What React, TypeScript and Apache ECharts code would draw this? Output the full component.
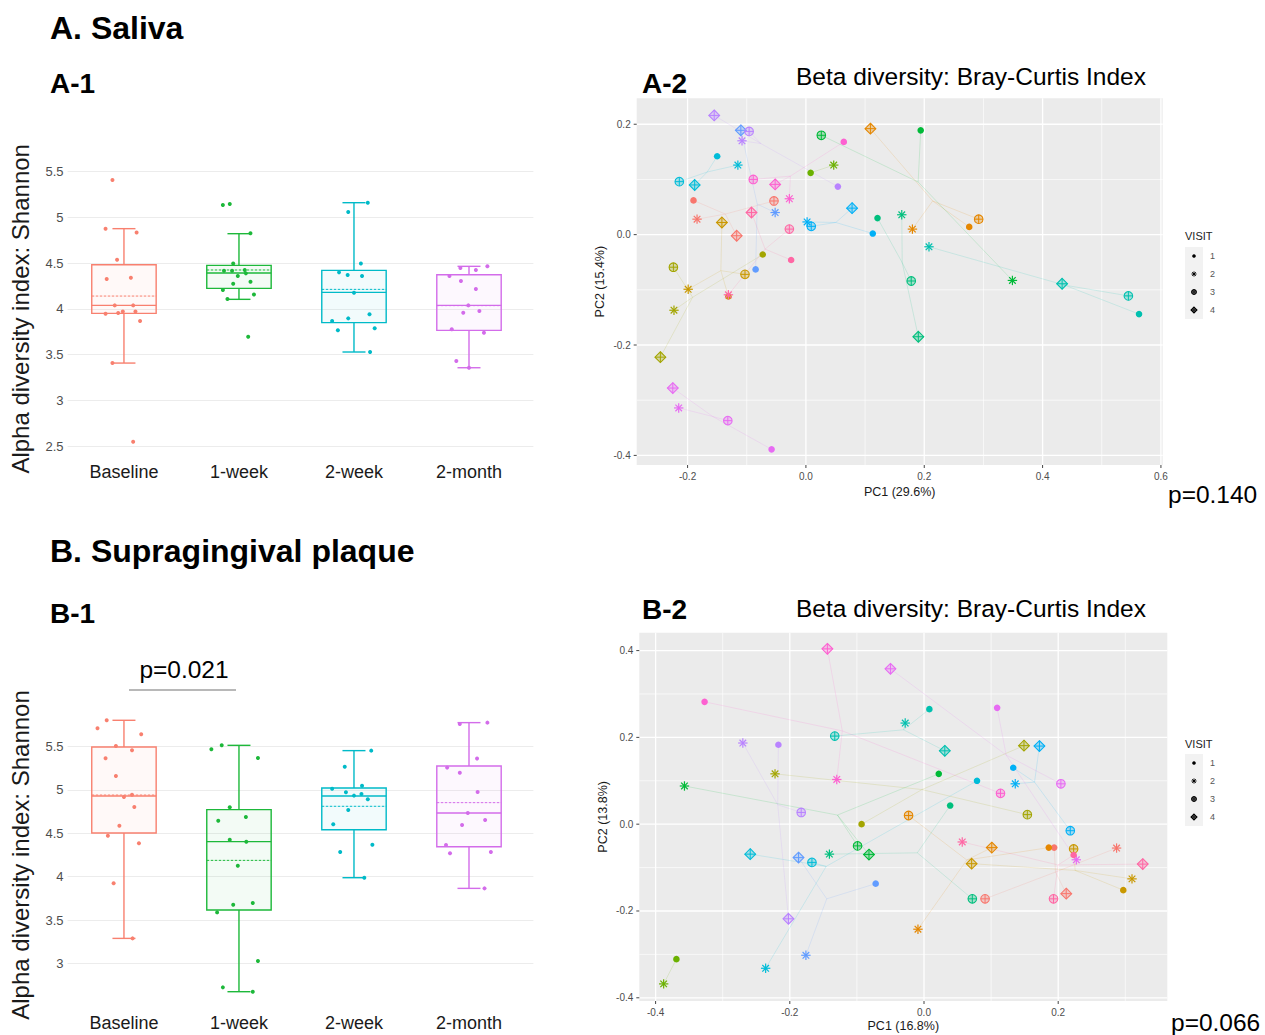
import React, { useEffect, useRef } from 'react';
import * as echarts from 'echarts';

const FONT = '"Liberation Sans", Arial, Helvetica, sans-serif';

// ---------- Alpha diversity (box plots) ----------
const timepoints = ['Baseline', '1-week', '2-week', '2-month'];
const timeColors = ['#F8806F', '#1DB83A', '#00BAC8', '#D36CEA'];

// [whiskerLow, q1, median, q3, whiskerHigh, mean]
const salivaBox = [
  [3.407, 3.951, 4.038, 4.483, 4.877, 4.14],
  [4.104, 4.224, 4.392, 4.476, 4.822, 4.425],
  [3.528, 3.849, 4.18, 4.421, 5.161, 4.213],
  [3.356, 3.765, 4.038, 4.373, 4.465, 4.035],
];
const salivaShannon = [
  [5.41, 4.877, 4.836, 4.538, 4.326, 4.341, 4.038, 4.038, 3.947, 3.954, 3.972, 3.972, 3.867, 3.407, 2.547],
  [5.135, 5.146, 4.826, 4.497, 4.417, 4.417, 4.425, 4.388, 4.359, 4.297, 4.275, 4.206, 4.158, 4.107, 3.695],
  [5.161, 5.059, 4.497, 4.399, 4.37, 4.359, 4.177, 3.94, 3.867, 3.896, 3.765, 3.787, 3.528],
  [4.446, 4.465, 4.425, 4.359, 4.304, 4.217, 4.038, 3.958, 3.976, 3.776, 3.739, 3.429, 3.356],
];
const salivaJitter = [
  [-0.1, -0.16, 0.11, -0.06, -0.15, 0.06, -0.08, 0.08, -0.16, -0.05, -0.01, 0.1, 0.14, -0.1, 0.08],
  [-0.14, -0.08, 0.1, -0.05, -0.13, -0.06, 0.05, 0.06, -0.01, 0.1, -0.05, -0.14, 0.13, -0.1, 0.08],
  [0.12, -0.05, 0.06, -0.13, -0.055, 0.07, 0, 0.135, -0.19, -0.05, -0.14, 0.18, 0.14],
  [-0.075, 0.16, 0.06, -0.17, -0.07, 0.06, -0.006, -0.05, 0.09, -0.15, 0.13, -0.11, 0],
];

const plaqueBox = [
  [3.288, 4.504, 4.93, 5.496, 5.804, 4.942],
  [2.673, 3.615, 4.404, 4.773, 5.515, 4.188],
  [3.988, 4.542, 4.931, 5.023, 5.454, 4.812],
  [3.865, 4.346, 4.735, 5.277, 5.777, 4.854],
];
const plaqueShannon = [
  [5.804, 5.712, 5.642, 5.508, 5.458, 5.365, 5.162, 4.946, 4.919, 4.804, 4.588, 4.473, 4.385, 3.923, 3.288],
  [5.515, 5.469, 5.369, 4.8, 4.646, 4.688, 4.427, 4.404, 4.127, 3.696, 3.677, 3.588, 3.027, 2.723, 2.673],
  [5.454, 5.269, 5.015, 5.05, 4.973, 4.935, 4.954, 4.892, 4.769, 4.604, 4.369, 4.285, 3.988],
  [5.762, 5.777, 5.362, 5.258, 5.2, 4.977, 4.735, 4.596, 4.654, 4.365, 4.269, 4.285, 3.865],
];
const plaqueJitter = [
  [-0.15, -0.23, 0.15, -0.07, 0.07, -0.16, -0.07, 0.07, 0, 0.09, -0.04, -0.14, 0.13, -0.09, 0.075],
  [-0.15, -0.24, 0.165, -0.08, -0.18, 0.06, -0.08, 0.064, -0.01, 0.12, -0.05, -0.19, 0.165, -0.14, 0.12],
  [0.15, -0.08, -0.19, 0.07, -0.07, 0, 0.065, 0.12, -0.05, -0.18, 0.16, -0.12, 0.09],
  [-0.08, 0.16, 0.07, -0.19, -0.08, 0.075, -0.01, -0.06, 0.14, -0.2, -0.165, 0.19, 0.135],
];

const salivaYTicks = [2.5, 3, 3.5, 4, 4.5, 5, 5.5];
const plaqueYTicks = [3, 3.5, 4, 4.5, 5, 5.5];

// ---------- Beta diversity (PCoA) ----------
const subjectColors = [
  '#F8766D', '#E58700', '#C99800', '#A3A500', '#6BB100', '#00BA38', '#00BF7D', '#00C0AF',
  '#00BCD8', '#00B0F6', '#619CFF', '#B983FF', '#E76BF3', '#FD61D1', '#FF67A4',
];
const visits = ['1', '2', '3', '4'];

// [PC1, PC2, visit, subject]
const salivaPoints = [
  [-0.19, 0.062, 1, 0], [-0.184, 0.028, 2, 0], [-0.054, 0.061, 3, 0], [-0.117, -0.002, 4, 0],
  [0.276, 0.014, 1, 1], [0.18, 0.01, 2, 1], [0.292, 0.028, 3, 1], [0.109, 0.192, 4, 1],
  [-0.131, -0.112, 1, 2], [-0.199, -0.099, 2, 2], [-0.103, -0.072, 3, 2], [-0.142, 0.022, 4, 2],
  [-0.073, -0.036, 1, 3], [-0.223, -0.137, 2, 3], [-0.224, -0.059, 3, 3], [-0.246, -0.222, 4, 3],
  [0.008, 0.112, 1, 4], [0.047, 0.126, 2, 4],
  [0.194, 0.189, 1, 5], [0.349, -0.083, 2, 5], [0.026, 0.18, 3, 5],
  [0.121, 0.03, 1, 6], [0.162, 0.036, 2, 6], [0.178, -0.084, 3, 6], [0.19, -0.185, 4, 6],
  [0.563, -0.144, 1, 7], [0.208, -0.022, 2, 7], [0.545, -0.111, 3, 7], [0.433, -0.089, 4, 7],
  [-0.15, 0.142, 1, 8], [-0.115, 0.126, 2, 8], [-0.214, 0.096, 3, 8], [-0.188, 0.09, 4, 8],
  [0.113, 0.002, 1, 9], [0.002, 0.023, 2, 9], [0.009, 0.015, 3, 9], [0.078, 0.048, 4, 9],
  [-0.085, -0.063, 1, 10], [-0.052, 0.04, 2, 10], [-0.11, 0.189, 4, 10],
  [0.054, 0.087, 1, 11], [-0.108, 0.17, 2, 11], [-0.096, 0.187, 3, 11], [-0.155, 0.216, 4, 11],
  [-0.058, -0.389, 1, 12], [-0.215, -0.314, 2, 12], [-0.132, -0.337, 3, 12], [-0.225, -0.278, 4, 12],
  [0.064, 0.168, 1, 13], [-0.028, 0.065, 2, 13], [-0.089, 0.1, 3, 13], [-0.052, 0.091, 4, 13],
  [-0.025, -0.046, 1, 14], [-0.131, -0.109, 2, 14], [-0.028, 0.01, 3, 14], [-0.092, 0.04, 4, 14],
];
const plaquePoints = [
  [0.194, -0.054, 1, 0], [0.287, -0.055, 2, 0], [0.091, -0.172, 3, 0], [0.212, -0.16, 4, 0],
  [0.186, -0.054, 1, 1], [-0.009, -0.242, 2, 1], [-0.023, 0.02, 3, 1], [0.101, -0.054, 4, 1],
  [0.297, -0.152, 1, 2], [0.31, -0.126, 2, 2], [0.223, -0.057, 3, 2], [0.071, -0.091, 4, 2],
  [-0.093, 0.0, 1, 3], [-0.222, 0.116, 2, 3], [0.154, 0.022, 3, 3], [0.149, 0.181, 4, 3],
  [-0.369, -0.311, 1, 4], [-0.388, -0.368, 2, 4],
  [0.022, 0.116, 1, 5], [-0.357, 0.088, 2, 5], [-0.099, -0.05, 3, 5], [-0.082, -0.07, 4, 5],
  [0.039, 0.043, 1, 6], [-0.141, -0.069, 2, 6], [0.072, -0.172, 3, 6],
  [0.008, 0.265, 1, 7], [-0.028, 0.233, 2, 7], [-0.133, 0.203, 3, 7], [0.031, 0.169, 4, 7],
  [0.079, 0.1, 1, 8], [-0.236, -0.332, 2, 8], [-0.167, -0.088, 3, 8], [-0.259, -0.069, 4, 8],
  [0.133, 0.13, 1, 9], [0.136, 0.093, 2, 9], [0.218, -0.015, 3, 9], [0.172, 0.18, 4, 9],
  [-0.072, -0.137, 1, 10], [-0.176, -0.302, 2, 10], [-0.187, -0.077, 4, 10],
  [-0.217, 0.183, 1, 11], [-0.27, 0.187, 2, 11], [-0.183, 0.027, 3, 11], [-0.202, -0.218, 4, 11],
  [0.109, 0.268, 1, 12], [0.227, -0.082, 2, 12], [0.204, 0.093, 3, 12], [-0.05, 0.358, 4, 12],
  [-0.327, 0.282, 1, 13], [-0.13, 0.103, 2, 13], [0.114, 0.071, 3, 13], [-0.144, 0.404, 4, 13],
  [0.223, -0.071, 1, 14], [0.057, -0.041, 2, 14], [0.193, -0.172, 3, 14], [0.326, -0.092, 4, 14],
];

const salivaRange = { x: [-0.286, 0.603], y: [-0.4174, 0.247] };
const plaqueRange = { x: [-0.4243, 0.3626], y: [-0.4074, 0.4412] };

const salivaMajorX = [-0.2, 0, 0.2, 0.4, 0.6];
const salivaMinorX = [-0.1, 0.1, 0.3, 0.5];
const salivaMajorY = [-0.4, -0.2, 0, 0.2];
const salivaMinorY = [-0.3, -0.1, 0.1];
const plaqueMajorX = [-0.4, -0.2, 0, 0.2];
const plaqueMinorX = [-0.3, -0.1, 0.1, 0.3];
const plaqueMajorY = [-0.4, -0.2, 0, 0.2, 0.4];
const plaqueMinorY = [-0.3, -0.1, 0.1, 0.3];

// ---------- helpers ----------
function alpha(hex: string, a: number) {
  const n = parseInt(hex.slice(1), 16);
  return `rgba(${(n >> 16) & 255},${(n >> 8) & 255},${n & 255},${a})`;
}
const isMult = (v: number, step: number) => Math.abs(v / step - Math.round(v / step)) < 1e-6;

function visitShape(visit: number, cx: number, cy: number, color: string, s: number) {
  const out: any[] = [];
  if (visit === 1) {
    out.push({ type: 'circle', shape: { cx, cy, r: 3.3 * s }, style: { fill: color } });
  } else if (visit === 2) {
    const r = 4.7 * s, d = 3.3 * s;
    const segs = [[0, -r, 0, r], [-r, 0, r, 0], [-d, -d, d, d], [-d, d, d, -d]];
    segs.forEach((g) => out.push({ type: 'line', shape: { x1: cx + g[0], y1: cy + g[1], x2: cx + g[2], y2: cy + g[3] }, style: { stroke: color, lineWidth: 1.2 * Math.max(s, 0.8) } }));
  } else if (visit === 3) {
    const r = 4.3 * s;
    out.push({ type: 'circle', shape: { cx, cy, r }, style: { fill: alpha(color, 0.3), stroke: color, lineWidth: 1.1 } });
    out.push({ type: 'line', shape: { x1: cx - r, y1: cy, x2: cx + r, y2: cy }, style: { stroke: color, lineWidth: 1 } });
    out.push({ type: 'line', shape: { x1: cx, y1: cy - r, x2: cx, y2: cy + r }, style: { stroke: color, lineWidth: 1 } });
  } else {
    const r = 5.4 * s;
    out.push({ type: 'polygon', shape: { points: [[cx, cy - r], [cx + r, cy], [cx, cy + r], [cx - r, cy]] }, style: { fill: alpha(color, 0.3), stroke: color, lineWidth: 1.1 } });
    out.push({ type: 'line', shape: { x1: cx - r, y1: cy, x2: cx + r, y2: cy }, style: { stroke: color, lineWidth: 1 } });
    out.push({ type: 'line', shape: { x1: cx, y1: cy - r, x2: cx, y2: cy + r }, style: { stroke: color, lineWidth: 1 } });
  }
  return out;
}

function spiderData(points: number[][]) {
  const sums: Record<number, number[]> = {};
  points.forEach((p) => {
    const s = sums[p[3]] || [0, 0, 0];
    s[0] += p[0]; s[1] += p[1]; s[2] += 1;
    sums[p[3]] = s;
  });
  return points.map((p) => {
    const s = sums[p[3]];
    return [p[0], p[1], s[0] / s[2], s[1] / s[2], p[3]];
  });
}

const BOX_HALF = 0.28;
const CAP_HALF = 0.1;

function boxSeries(stats: number[][], axis: number) {
  return {
    type: 'custom', xAxisIndex: axis, yAxisIndex: axis, z: 2, silent: true,
    data: stats.map((b, i) => [i, ...b]),
    encode: { x: 0, y: [1, 2, 3, 4, 5, 6] },
    renderItem: (params: any, api: any) => {
      const i = api.value(0);
      const c = timeColors[i];
      const y = (k: number) => api.coord([i, api.value(k)])[1];
      const cx = api.coord([i, 0])[0];
      const xl = api.coord([i - BOX_HALF, 0])[0];
      const xr = api.coord([i + BOX_HALF, 0])[0];
      const cl = api.coord([i - CAP_HALF, 0])[0];
      const cr = api.coord([i + CAP_HALF, 0])[0];
      const low = y(1), q1 = y(2), med = y(3), q3 = y(4), high = y(5), mean = y(6);
      const st = { stroke: c, lineWidth: 1.4 };
      return {
        type: 'group',
        children: [
          { type: 'rect', shape: { x: xl, y: q3, width: xr - xl, height: q1 - q3 }, style: { fill: alpha(c, 0.05), stroke: c, lineWidth: 1.4 } },
          { type: 'line', shape: { x1: cx, y1: q3, x2: cx, y2: high }, style: st },
          { type: 'line', shape: { x1: cx, y1: q1, x2: cx, y2: low }, style: st },
          { type: 'line', shape: { x1: cl, y1: high, x2: cr, y2: high }, style: st },
          { type: 'line', shape: { x1: cl, y1: low, x2: cr, y2: low }, style: st },
          { type: 'line', shape: { x1: xl, y1: med, x2: xr, y2: med }, style: st },
          { type: 'line', shape: { x1: xl, y1: mean, x2: xr, y2: mean }, style: { stroke: c, lineWidth: 1, lineDash: [2.5, 1.5] } },
        ],
      };
    },
  };
}

function jitterSeries(values: number[][], jitter: number[][], axis: number) {
  return values.map((vals, i) => ({
    type: 'scatter', xAxisIndex: axis, yAxisIndex: axis, z: 3, silent: true,
    symbol: 'circle', symbolSize: 4,
    itemStyle: { color: timeColors[i], opacity: 1 },
    data: vals.map((v, k) => [i + jitter[i][k], v]),
  }));
}

function gridLineSeries(axis: number, majorX: number[], minorX: number[], majorY: number[], minorY: number[]) {
  const data: number[][] = [];
  majorX.forEach((v) => data.push([v, 0, 1]));
  minorX.forEach((v) => data.push([v, 0, 0]));
  majorY.forEach((v) => data.push([v, 1, 1]));
  minorY.forEach((v) => data.push([v, 1, 0]));
  return {
    type: 'custom', xAxisIndex: axis, yAxisIndex: axis, z: 1, silent: true,
    data,
    encode: { x: 0, y: 0 },
    renderItem: (params: any, api: any) => {
      const cs = params.coordSys;
      const v = api.value(0), dir = api.value(1), major = api.value(2);
      const w = major ? 1.3 : 1;
      const col = major ? '#FFFFFF' : 'rgba(255,255,255,0.65)';
      const kids: any[] = [];
      if (dir === 0) {
        const px = api.coord([v, 0])[0];
        kids.push({ type: 'line', shape: { x1: px, y1: cs.y, x2: px, y2: cs.y + cs.height }, style: { stroke: col, lineWidth: w } });
        if (major) kids.push({ type: 'line', shape: { x1: px, y1: cs.y + cs.height, x2: px, y2: cs.y + cs.height + 3 }, style: { stroke: '#444', lineWidth: 1 } });
      } else {
        const py = api.coord([0, v])[1];
        kids.push({ type: 'line', shape: { x1: cs.x, y1: py, x2: cs.x + cs.width, y2: py }, style: { stroke: col, lineWidth: w } });
        if (major) kids.push({ type: 'line', shape: { x1: cs.x - 3, y1: py, x2: cs.x, y2: py }, style: { stroke: '#444', lineWidth: 1 } });
      }
      return { type: 'group', children: kids };
    },
  };
}

function spiderSeries(points: number[][], axis: number) {
  return {
    type: 'custom', xAxisIndex: axis, yAxisIndex: axis, z: 2, silent: true,
    data: spiderData(points),
    encode: { x: [0, 2], y: [1, 3] },
    renderItem: (params: any, api: any) => {
      const p = api.coord([api.value(0), api.value(1)]);
      const c = api.coord([api.value(2), api.value(3)]);
      const col = subjectColors[api.value(4)];
      return { type: 'line', shape: { x1: c[0], y1: c[1], x2: p[0], y2: p[1] }, style: { stroke: alpha(col, 0.15), lineWidth: 1 } };
    },
  };
}

function pointSeries(points: number[][], axis: number) {
  return {
    type: 'custom', xAxisIndex: axis, yAxisIndex: axis, z: 3, silent: true,
    data: points,
    encode: { x: 0, y: 1 },
    renderItem: (params: any, api: any) => {
      const p = api.coord([api.value(0), api.value(1)]);
      return { type: 'group', children: visitShape(api.value(2), p[0], p[1], subjectColors[api.value(3)], 1) };
    },
  };
}

function legendGraphics(x: number, titleY: number, keyTop: number) {
  const els: any[] = [
    { type: 'text', x, y: titleY, style: { text: 'VISIT', fontSize: 11, fontFamily: FONT, fill: '#222', textAlign: 'left', textVerticalAlign: 'middle' } },
    { type: 'rect', shape: { x, y: keyTop, width: 18, height: 72 }, style: { fill: '#F2F2F2' } },
  ];
  visits.forEach((v, k) => {
    const cy = keyTop + 9 + k * 18;
    visitShape(k + 1, x + 9, cy, '#000', 0.55).forEach((e) => els.push(e));
    els.push({ type: 'text', x: x + 25, y: cy, style: { text: v, fontSize: 9, fontFamily: FONT, fill: '#555', textAlign: 'left', textVerticalAlign: 'middle' } });
  });
  return els;
}

function text(t: string, x: number, y: number, size: number, bold = false, align = 'left') {
  return { type: 'text', x, y, style: { text: t, fontSize: size, fontWeight: bold ? 'bold' : 'normal', fontFamily: FONT, fill: '#000', textAlign: align, textVerticalAlign: 'middle' } };
}

const catFmt = (v: number) => {
  const i = Math.round(v);
  return Math.abs(v - i) < 1e-6 && timepoints[i] ? timepoints[i] : '';
};
const pcFmt = (v: number) => (isMult(v, 0.2) ? (Math.abs(v) < 1e-9 ? '0.0' : v.toFixed(1)) : '');

function boxX(grid: number, margin: number) {
  return {
    type: 'value', gridIndex: grid, min: -0.49, max: 3.56, minInterval: 1, maxInterval: 1,
    axisLine: { show: false }, axisTick: { show: false }, splitLine: { show: false },
    axisLabel: { formatter: catFmt, fontSize: 18, color: '#1a1a1a', fontFamily: FONT, margin },
  };
}
function boxY(grid: number, min: number, max: number, ticks: number[], gap: number) {
  const colors: string[] = [];
  for (let v = min; v <= max + 1e-9; v += 0.5) colors.push(ticks.some((t) => Math.abs(t - v) < 1e-6) ? '#ECECEC' : 'rgba(0,0,0,0)');
  return {
    type: 'value', gridIndex: grid, min, max, interval: 0.5,
    axisLine: { show: false }, axisTick: { show: false },
    splitLine: { show: true, lineStyle: { color: colors, width: 1 } },
    axisLabel: {
      formatter: (v: number) => (ticks.some((t) => Math.abs(t - v) < 1e-6) ? String(Math.round(v * 10) / 10) : ''),
      fontSize: 13, color: '#4d4d4d', fontFamily: FONT, margin: 4,
    },
    name: 'Alpha diversity index: Shannon', nameLocation: 'middle', nameGap: gap,
    nameTextStyle: { fontSize: 24, color: '#1a1a1a', fontFamily: FONT },
  };
}
function pcX(grid: number, range: number[], name: string, gap: number) {
  return {
    type: 'value', gridIndex: grid, min: range[0], max: range[1], minInterval: 0.2, maxInterval: 0.2,
    axisLine: { show: false }, axisTick: { show: false }, splitLine: { show: false },
    axisLabel: { formatter: pcFmt, fontSize: 10, color: '#4d4d4d', fontFamily: FONT, margin: 6 },
    name, nameLocation: 'middle', nameGap: gap,
    nameTextStyle: { fontSize: 12.5, color: '#1a1a1a', fontFamily: FONT },
  };
}
function pcY(grid: number, range: number[], name: string, gap: number) {
  return {
    type: 'value', gridIndex: grid, min: range[0], max: range[1], minInterval: 0.2, maxInterval: 0.2,
    axisLine: { show: false }, axisTick: { show: false }, splitLine: { show: false },
    axisLabel: { formatter: pcFmt, fontSize: 10, color: '#4d4d4d', fontFamily: FONT, margin: 6 },
    name, nameLocation: 'middle', nameGap: gap,
    nameTextStyle: { fontSize: 12.5, color: '#1a1a1a', fontFamily: FONT },
  };
}

function buildOption() {
  return {
    animation: false,
    backgroundColor: '#FFFFFF',
    grid: [
      { left: 67.6, top: 171.7, width: 465.8, height: 274.3, outerBoundsMode: 'none' },
      { left: 636.7, top: 98.3, width: 526, height: 366.7, show: true, backgroundColor: '#EBEBEB', borderWidth: 0, outerBoundsMode: 'none' },
      { left: 67.6, top: 703.3, width: 465.8, height: 303.4, outerBoundsMode: 'none' },
      { left: 639.3, top: 632.7, width: 528, height: 368.3, show: true, backgroundColor: '#EBEBEB', borderWidth: 0, outerBoundsMode: 'none' },
    ],
    xAxis: [
      boxX(0, 17),
      pcX(1, salivaRange.x, 'PC1 (29.6%)', 20.5),
      boxX(2, 7.5),
      pcX(3, plaqueRange.x, 'PC1 (16.8%)', 18.5),
    ],
    yAxis: [
      boxY(0, 2.5, 5.5, salivaYTicks, 35),
      pcY(1, salivaRange.y, 'PC2 (15.4%)', 30),
      boxY(2, 2.5, 6.0, plaqueYTicks, 35),
      pcY(3, plaqueRange.y, 'PC2 (13.8%)', 30),
    ],
    series: [
      boxSeries(salivaBox, 0),
      ...jitterSeries(salivaShannon, salivaJitter, 0),
      gridLineSeries(1, salivaMajorX, salivaMinorX, salivaMajorY, salivaMinorY),
      spiderSeries(salivaPoints, 1),
      pointSeries(salivaPoints, 1),
      boxSeries(plaqueBox, 2),
      ...jitterSeries(plaqueShannon, plaqueJitter, 2),
      gridLineSeries(3, plaqueMajorX, plaqueMinorX, plaqueMajorY, plaqueMinorY),
      spiderSeries(plaquePoints, 3),
      pointSeries(plaquePoints, 3),
    ],
    graphic: [
      text('A. Saliva', 50, 28, 32, true),
      text('A-1', 50, 83, 28, true),
      text('A-2', 642, 83, 28, true),
      text('Beta diversity: Bray-Curtis Index', 796, 76, 24.5),
      text('p=0.140', 1168, 494, 24.5),
      text('B. Supragingival plaque', 50, 551, 32, true),
      text('B-1', 50, 613, 28, true),
      text('B-2', 642, 609, 28, true),
      text('Beta diversity: Bray-Curtis Index', 796, 608, 24.5),
      text('p=0.066', 1171, 1022, 24.5),
      text('p=0.021', 184, 669, 24.5, false, 'center'),
      { type: 'line', shape: { x1: 129, y1: 690, x2: 236, y2: 690 }, style: { stroke: '#A0A0A0', lineWidth: 1.5 } },
      ...legendGraphics(1185, 236, 247),
      ...legendGraphics(1185, 744, 754),
    ],
  };
}

export default function App() {
  const ref = useRef<HTMLDivElement>(null);
  useEffect(() => {
    document.body.style.margin = '0';
    const chart = echarts.init(ref.current as HTMLDivElement, null, { renderer: 'svg' });
    chart.setOption(buildOption() as any);
    return () => chart.dispose();
  }, []);
  return (
    <div
      ref={ref}
      style={{ position: 'absolute', left: 0, top: 0, width: 1265, height: 1035, background: '#fff' }}
    />
  );
}
